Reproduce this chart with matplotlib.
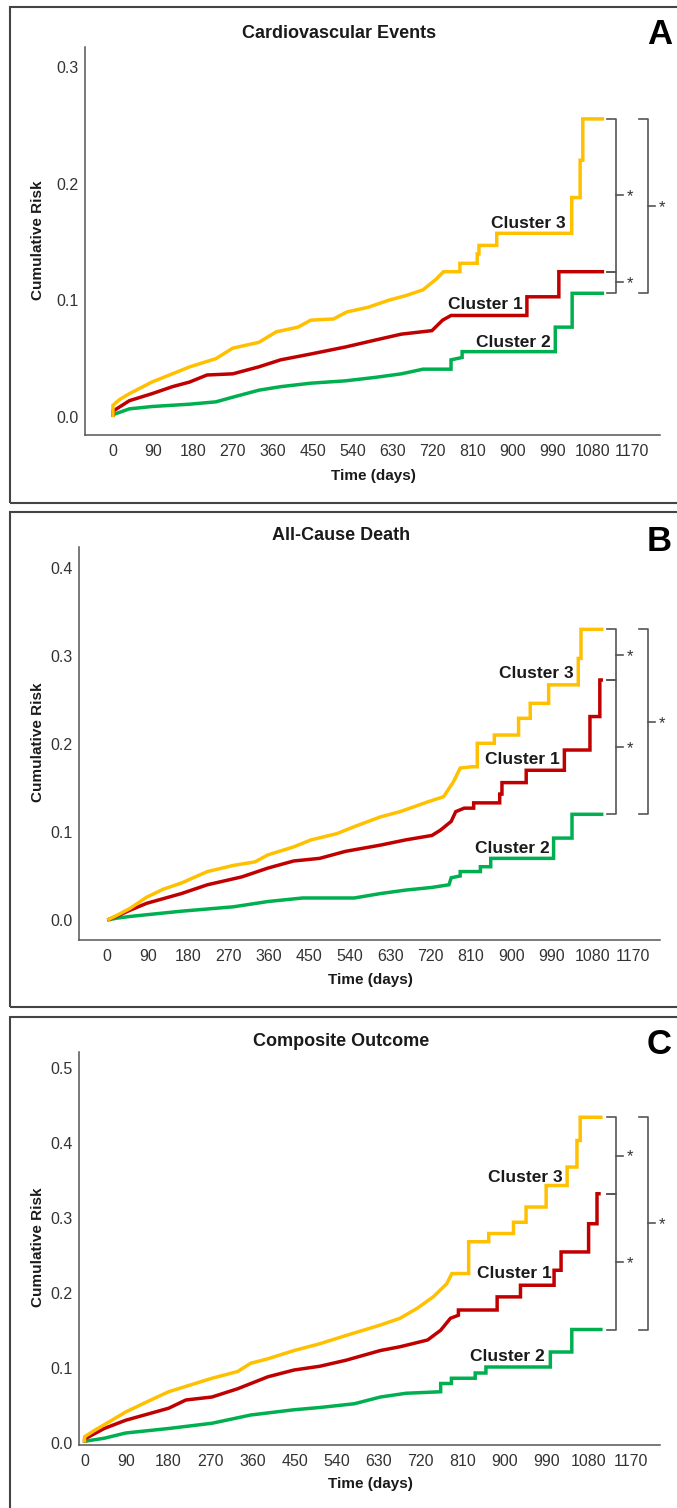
import matplotlib
matplotlib.use("Agg")
import matplotlib.pyplot as plt
import matplotlib.transforms as mtransforms
from matplotlib.patches import Rectangle

W, H = 677, 1508

# cumulative risk curves, (day, risk); repeated days are jumps
cv_cluster3 = [(0, 0), (0, 0.010), (15, 0.015), (37, 0.020), (88, 0.030), (134, 0.037), (173, 0.043),
               (232, 0.050), (270, 0.059), (329, 0.064), (368, 0.073), (417, 0.077), (446, 0.083),
               (497, 0.084), (527, 0.090), (575, 0.094), (621, 0.100), (660, 0.104), (699, 0.109),
               (728, 0.118), (745, 0.1245), (782, 0.1245), (782, 0.1317), (821, 0.1317), (821, 0.1397),
               (825, 0.1397), (825, 0.147), (865, 0.147), (865, 0.1574), (1034, 0.1574), (1034, 0.188),
               (1053, 0.188), (1053, 0.220), (1059, 0.220), (1059, 0.2554), (1107, 0.2554)]
cv_cluster1 = [(0, 0), (0, 0.005), (37, 0.014), (88, 0.020), (134, 0.026), (173, 0.030), (212, 0.036),
               (270, 0.037), (329, 0.043), (378, 0.049), (446, 0.054), (524, 0.060), (592, 0.066),
               (650, 0.071), (719, 0.074), (743, 0.083), (762, 0.087), (933, 0.087), (933, 0.103),
               (1005, 0.103), (1005, 0.1245), (1107, 0.1245)]
cv_cluster2 = [(0, 0), (0, 0.002), (37, 0.007), (88, 0.009), (173, 0.011), (232, 0.013), (270, 0.017),
               (329, 0.023), (378, 0.026), (446, 0.029), (524, 0.031), (592, 0.034), (650, 0.037),
               (699, 0.041), (762, 0.041), (762, 0.049), (787, 0.051), (787, 0.056), (997, 0.056),
               (997, 0.077), (1035, 0.077), (1035, 0.106), (1107, 0.106)]

death_cluster3 = [(0, 0), (20, 0.005), (50, 0.013), (88, 0.026), (125, 0.035), (165, 0.042), (223, 0.055),
                  (281, 0.062), (329, 0.066), (358, 0.074), (415, 0.083), (454, 0.091), (511, 0.098),
                  (550, 0.106), (608, 0.117), (652, 0.123), (713, 0.134), (749, 0.140), (771, 0.157),
                  (786, 0.1725), (812, 0.174), (824, 0.174), (824, 0.2006), (862, 0.2006), (862, 0.210),
                  (916, 0.210), (916, 0.229), (942, 0.229), (942, 0.246), (983, 0.246), (983, 0.267),
                  (1049, 0.267), (1049, 0.297), (1055, 0.297), (1055, 0.330), (1105, 0.330)]
death_cluster1 = [(0, 0), (20, 0.004), (50, 0.011), (88, 0.019), (165, 0.030), (223, 0.040), (300, 0.049),
                  (358, 0.059), (415, 0.067), (473, 0.070), (531, 0.078), (608, 0.085), (665, 0.091),
                  (723, 0.096), (742, 0.102), (766, 0.112), (776, 0.123), (795, 0.127), (816, 0.127),
                  (816, 0.133), (874, 0.133), (874, 0.143), (879, 0.143), (879, 0.156), (933, 0.156),
                  (933, 0.170), (1018, 0.170), (1018, 0.193), (1075, 0.193), (1075, 0.231), (1097, 0.231),
                  (1097, 0.2725), (1104, 0.2725)]
death_cluster2 = [(0, 0), (20, 0.002), (50, 0.004), (88, 0.006), (165, 0.010), (281, 0.015), (358, 0.021),
                  (435, 0.025), (550, 0.025), (608, 0.030), (665, 0.034), (723, 0.037), (761, 0.040),
                  (766, 0.048), (786, 0.050), (786, 0.055), (831, 0.055), (831, 0.0605), (854, 0.0605),
                  (854, 0.070), (994, 0.070), (994, 0.093), (1035, 0.093), (1035, 0.120), (1105, 0.120)]

comp_cluster3 = [(0, 0), (0, 0.008), (20, 0.016), (42, 0.024), (88, 0.041), (135, 0.055), (180, 0.068),
                 (273, 0.086), (328, 0.095), (356, 0.106), (393, 0.112), (449, 0.123), (504, 0.132),
                 (560, 0.143), (634, 0.157), (676, 0.166), (712, 0.179), (747, 0.1945), (776, 0.212),
                 (787, 0.2256), (823, 0.2256), (823, 0.268), (866, 0.268), (866, 0.279), (919, 0.279),
                 (919, 0.294), (946, 0.294), (946, 0.3143), (989, 0.3143), (989, 0.343), (1034, 0.343),
                 (1034, 0.3676), (1055, 0.3676), (1055, 0.403), (1062, 0.403), (1062, 0.434), (1110, 0.434)]
comp_cluster1 = [(0, 0), (0, 0.005), (42, 0.019), (88, 0.030), (180, 0.046), (217, 0.057), (273, 0.061),
                 (328, 0.072), (393, 0.088), (449, 0.097), (504, 0.102), (560, 0.110), (634, 0.123),
                 (676, 0.128), (735, 0.137), (763, 0.150), (784, 0.166), (801, 0.170), (801, 0.177),
                 (884, 0.177), (884, 0.1945), (934, 0.1945), (934, 0.210), (1006, 0.210), (1006, 0.230),
                 (1021, 0.230), (1021, 0.2544), (1080, 0.2544), (1080, 0.292), (1098, 0.292),
                 (1098, 0.332), (1106, 0.332)]
comp_cluster2 = [(0, 0), (0, 0.002), (42, 0.006), (88, 0.013), (180, 0.019), (273, 0.026), (356, 0.037),
                 (449, 0.044), (504, 0.047), (578, 0.052), (634, 0.061), (689, 0.066), (763, 0.068),
                 (763, 0.079), (786, 0.079), (786, 0.086), (837, 0.086), (837, 0.093), (860, 0.093),
                 (860, 0.101), (998, 0.101), (998, 0.121), (1044, 0.121), (1044, 0.151), (1110, 0.151)]

x_ticks = list(range(0, 1171, 90))
cluster_names = ["Cluster 3", "Cluster 1", "Cluster 2"]
colors = ["#FFC000", "#C00000", "#00B050"]

panels = [
    dict(title="Cardiovascular Events", letter="A",
         series=[cv_cluster3, cv_cluster1, cv_cluster2], yticks=[0.0, 0.1, 0.2, 0.3],
         box=(85, 47, 660, 435), xlim=(-63, 1233), ylim=(-0.0154, 0.317),
         labels=[(1021, 0.166), (923, 0.0966), (987, 0.064)],
         frame=(10, 7, 503), title_xy=(339, 33), letter_y=35, ylab_y=240, xlab_xy=(373, 476)),
    dict(title="All-Cause Death", letter="B",
         series=[death_cluster3, death_cluster1, death_cluster2], yticks=[0.0, 0.1, 0.2, 0.3, 0.4],
         box=(79, 547, 660, 940), xlim=(-63, 1231), ylim=(-0.0227, 0.4235),
         labels=[(1038, 0.280), (1008, 0.182), (985, 0.081)],
         frame=(10, 512, 1007), title_xy=(341, 536), letter_y=541, ylab_y=742, xlab_xy=(370, 980)),
    dict(title="Composite Outcome", letter="C",
         series=[comp_cluster3, comp_cluster1, comp_cluster2], yticks=[0.0, 0.1, 0.2, 0.3, 0.4, 0.5],
         box=(79, 1052, 660, 1445), xlim=(-12, 1233), ylim=(-0.003, 0.521),
         labels=[(1024, 0.353), (1000, 0.225), (987, 0.115)],
         frame=(10, 1017, 1530), title_xy=(341, 1041), letter_y=1045, ylab_y=1247, xlab_xy=(370, 1484)),
]

BOLD = ["Liberation Sans", "DejaVu Sans"]
NARROW = ["Liberation Sans Narrow", "Liberation Sans", "DejaVu Sans"]
TXT = "#1a1a1a"

fig = plt.figure(figsize=(W / 100, H / 100), dpi=100)


def ftext(x, y, s, **kw):
    fig.text(x / W, 1 - y / H, s, **kw)


def bracket(ax, xpx, y_top, y_bot):
    left, top, right, bottom = ax._box
    aw = right - left
    tr = mtransforms.blended_transform_factory(ax.transAxes, ax.transData)
    xb = (xpx - left) / aw
    hook = 9 / aw
    ym = (y_top + y_bot) / 2
    ax.plot([xb - hook, xb, xb, xb - hook], [y_top, y_top, y_bot, y_bot], color="#555555",
            lw=1.2, transform=tr, clip_on=False)
    ax.plot([xb, xb + 7 / aw], [ym, ym], color="#555555", lw=1.2, transform=tr, clip_on=False)
    star_tr = mtransforms.offset_copy(tr, fig=fig, x=0, y=-1.5, units="dots")
    ax.text(xb + 11 / aw, ym, "*", transform=star_tr, fontsize=12, color="#333333", ha="left",
            va="center", family=BOLD)


for p in panels:
    fl, ft, fb = p["frame"]
    fig.add_artist(Rectangle((fl / W, 1 - fb / H), (W + 20 - fl) / W, (fb - ft) / H,
                             transform=fig.transFigure, fill=False, edgecolor="#444444", lw=1.5))

    left, top, right, bottom = p["box"]
    ax = fig.add_axes([left / W, 1 - bottom / H, (right - left) / W, (bottom - top) / H])
    ax._box = p["box"]
    ax.patch.set_alpha(0)
    for s in ["top", "right"]:
        ax.spines[s].set_visible(False)
    for s in ["left", "bottom"]:
        ax.spines[s].set_color("#555555")
        ax.spines[s].set_linewidth(1.1)

    for data, c in reversed(list(zip(p["series"], colors))):
        t, r = zip(*data)
        ax.plot(t, r, color=c, lw=2.5, solid_joinstyle="miter", solid_capstyle="butt")

    for name, (lx, ly) in zip(cluster_names, p["labels"]):
        ax.text(lx, ly, name, ha="right", va="center", fontsize=12.5, fontweight="bold",
                color=TXT, family=BOLD)

    ax.set_xlim(*p["xlim"])
    ax.set_ylim(*p["ylim"])
    ax.set_xticks(x_ticks)
    ax.set_yticks(p["yticks"])
    ax.set_yticklabels([f"{v:.1f}" for v in p["yticks"]])
    ax.tick_params(axis="both", length=0, labelsize=11.5, labelcolor="#333333")
    ax.tick_params(axis="x", pad=6.5)
    ax.tick_params(axis="y", pad=4.5)
    for lbl in ax.get_xticklabels() + ax.get_yticklabels():
        lbl.set_fontfamily(NARROW)

    ends = [d[-1][1] for d in p["series"]]
    bracket(ax, 616, ends[0], ends[1])
    bracket(ax, 616, ends[1], ends[2])
    bracket(ax, 648, ends[0], ends[2])

    tx, ty = p["title_xy"]
    ftext(tx, ty, p["title"], ha="center", va="center", fontsize=13, fontweight="bold",
          color=TXT, family=BOLD)
    ftext(647, p["letter_y"], p["letter"], ha="left", va="center", fontsize=25,
          fontweight="bold", color="black", family=BOLD)
    ftext(38, p["ylab_y"], "Cumulative Risk", ha="center", va="center", rotation=90,
          fontsize=11, fontweight="bold", color=TXT, family=BOLD)
    xx, xy = p["xlab_xy"]
    ftext(xx, xy, "Time (days)", ha="center", va="center", fontsize=11, fontweight="bold",
          color=TXT, family=BOLD)

fig.savefig("out.png", dpi=100)
